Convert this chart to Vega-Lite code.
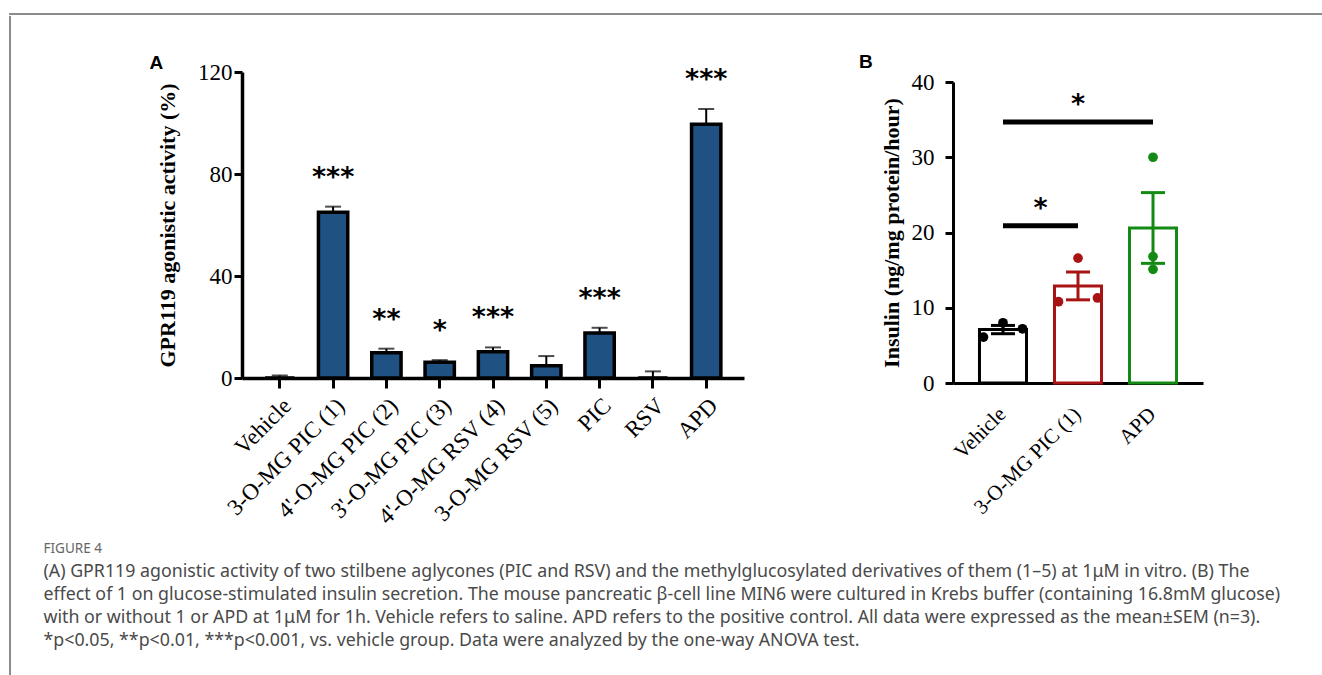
{
  "$schema": "https://vega.github.io/schema/vega-lite/v6.json",
  "background": "white",
  "padding": {"left": 9, "top": 13, "right": 0, "bottom": 0},
  "spacing": 0,
  "config": {
    "view": {"stroke": null},
    "axis": {"labelFont": "Liberation Serif", "titleFont": "Liberation Serif", "labelColor": "black", "titleColor": "black", "domainColor": "black", "tickColor": "black", "grid": false},
    "title": {"font": "Liberation Sans", "color": "black"}
  },
  "datasets": {
    "gpr": [
      {"group": "Vehicle", "mean": 0, "hi": 1.0, "sig": ""},
      {"group": "3-O-MG PIC (1)", "mean": 65.0, "hi": 67.2, "sig": "***"},
      {"group": "4'-O-MG PIC (2)", "mean": 9.9, "hi": 11.5, "sig": "**"},
      {"group": "3'-O-MG PIC (3)", "mean": 6.2, "hi": 7.0, "sig": "*"},
      {"group": "4'-O-MG RSV (4)", "mean": 10.3, "hi": 12.0, "sig": "***"},
      {"group": "3-O-MG RSV (5)", "mean": 4.8, "hi": 8.6, "sig": ""},
      {"group": "PIC", "mean": 17.6, "hi": 19.7, "sig": "***"},
      {"group": "RSV", "mean": 0, "hi": 2.6, "sig": ""},
      {"group": "APD", "mean": 99.5, "hi": 105.5, "sig": "***"}
    ],
    "ins": [
      {"group": "Vehicle", "mean": 7.1, "lo": 6.55, "hi": 7.65},
      {"group": "3-O-MG PIC (1)", "mean": 12.9, "lo": 11.05, "hi": 14.75},
      {"group": "APD", "mean": 20.6, "lo": 15.9, "hi": 25.3}
    ],
    "pts": [
      {"group": "Vehicle", "pos": "L", "value": 6.1},
      {"group": "Vehicle", "pos": "C", "value": 8.0},
      {"group": "Vehicle", "pos": "R", "value": 7.2},
      {"group": "3-O-MG PIC (1)", "pos": "L", "value": 10.8},
      {"group": "3-O-MG PIC (1)", "pos": "C", "value": 16.6},
      {"group": "3-O-MG PIC (1)", "pos": "R", "value": 11.3},
      {"group": "APD", "pos": "C", "value": 30.0},
      {"group": "APD", "pos": "C", "value": 16.8},
      {"group": "APD", "pos": "C", "value": 15.1}
    ],
    "sig": [
      {"from": "Vehicle", "to": "APD", "mid": "3-O-MG PIC (1)", "y": 34.7, "label": "*"},
      {"from": "Vehicle", "to": "3-O-MG PIC (1)", "mid": "Vehicle", "y": 20.9, "label": "*"}
    ]
  },
  "vconcat": [
    {"width": 1313, "height": 0.01, "view": {"stroke": "#8c8c8c", "strokeWidth": 2}, "data": {"values": []}, "mark": "rule", "encoding": {}},
    {
      "spacing": 31,
      "hconcat": [
        {"width": 0.01, "height": 659, "view": {"stroke": "#8c8c8c", "strokeWidth": 2}, "data": {"values": []}, "mark": "rule", "encoding": {}},
        {
          "spacing": 35,
          "vconcat": [
            {"width": 1, "height": 0.01, "data": {"values": []}, "mark": "rule", "encoding": {}},
            {
              "spacing": 114,
              "title": {
                "text": "FIGURE 4",
                "subtitle": [
                  "(A) GPR119 agonistic activity of two stilbene aglycones (PIC and RSV) and the methylglucosylated derivatives of them (1–5) at 1μM in vitro. (B) The",
                  "effect of 1 on glucose-stimulated insulin secretion. The mouse pancreatic β-cell line MIN6 were cultured in Krebs buffer (containing 16.8mM glucose)",
                  "with or without 1 or APD at 1μM for 1h. Vehicle refers to saline. APD refers to the positive control. All data were expressed as the mean±SEM (n=3).",
                  "*p<0.05, **p<0.01, ***p<0.001, vs. vehicle group. Data were analyzed by the one-way ANOVA test."
                ],
                "orient": "bottom",
                "anchor": "start",
                "frame": "bounds",
                "dx": -106,
                "offset": 13,
                "font": "Noto Sans",
                "fontSize": 13.5,
                "fontWeight": "normal",
                "color": "#666666",
                "subtitleFont": "Noto Sans",
                "subtitleFontSize": 17.8,
                "subtitleColor": "#4a4a4a",
                "subtitleLineHeight": 23,
                "subtitlePadding": 8
              },
              "hconcat": [
                {
                  "width": 502,
                  "height": 306,
                  "title": {"text": "A", "anchor": "start", "frame": "bounds", "fontSize": 19, "fontWeight": "bold", "dx": -7, "offset": -12},
                  "data": {"name": "gpr"},
                  "encoding": {
                    "x": {
                      "field": "group", "type": "nominal", "sort": null,
                      "scale": {"type": "band", "domain": ["Vehicle", "3-O-MG PIC (1)", "4'-O-MG PIC (2)", "3'-O-MG PIC (3)", "4'-O-MG RSV (4)", "3-O-MG RSV (5)", "PIC", "RSV", "APD"], "paddingInner": 0.45, "paddingOuter": 0.434},
                      "axis": {"title": null, "labelAngle": -45, "labelAlign": "right", "labelBaseline": "top", "labelFontSize": 23, "labelPadding": 6, "tickSize": 10, "tickWidth": 3, "domainWidth": 3.5}
                    }
                  },
                  "layer": [
                    {
                      "mark": {"type": "bar", "fill": "#1f5282", "stroke": "black", "strokeWidth": 3.5},
                      "encoding": {
                        "y": {"field": "mean", "type": "quantitative", "title": "GPR119 agonistic activity (%)",
                          "scale": {"domain": [0, 120], "nice": false},
                          "axis": {"values": [0, 40, 80, 120], "labelFontSize": 23, "labelPadding": 2, "tickSize": 8, "tickWidth": 3, "domainWidth": 3.5, "titleFontSize": 22, "titleFontWeight": "bold", "titlePadding": 18}}
                      }
                    },
                    {
                      "mark": {"type": "rule", "color": "black", "strokeWidth": 2},
                      "encoding": {
                        "y": {"field": "mean", "type": "quantitative", "title": "GPR119 agonistic activity (%)"},
                        "y2": {"field": "hi"}
                      }
                    },
                    {
                      "mark": {"type": "tick", "color": "black", "thickness": 2, "size": 16},
                      "encoding": {"y": {"field": "hi", "type": "quantitative", "title": "GPR119 agonistic activity (%)"}}
                    },
                    {
                      "mark": {"type": "text", "font": "DejaVu Sans", "fontWeight": "bold", "fontSize": 27, "dy": -29, "baseline": "middle", "color": "black"},
                      "encoding": {
                        "y": {"field": "hi", "type": "quantitative", "title": "GPR119 agonistic activity (%)"},
                        "text": {"field": "sig"}
                      }
                    }
                  ]
                },
                {
                  "title": {"text": "B", "anchor": "start", "frame": "bounds", "fontSize": 19, "fontWeight": "bold", "dx": -21, "offset": -1},
                  "spacing": -2,
                  "vconcat": [
                    {"width": 1, "height": 0.01, "data": {"values": []}, "mark": "rule", "encoding": {}},
                    {
                      "width": 250,
                      "height": 301,
                      "encoding": {
                        "x": {
                          "field": "group", "type": "nominal", "sort": null,
                          "scale": {"type": "band", "domain": ["Vehicle", "3-O-MG PIC (1)", "APD"], "paddingInner": 0.373, "paddingOuter": 0.353},
                          "axis": {"title": null, "labelAngle": -45, "labelAlign": "right", "labelBaseline": "top", "labelFontSize": 21, "labelPadding": 20, "labelOffset": -8, "ticks": false, "domainWidth": 3}
                        }
                      },
                      "layer": [
                        {
                          "data": {"name": "ins"},
                          "mark": {"type": "bar", "fill": "white", "strokeWidth": 3},
                          "encoding": {
                            "y": {"field": "mean", "type": "quantitative", "title": "Insulin (ng/mg protein/hour)",
                              "scale": {"domain": [0, 40], "nice": false},
                              "axis": {"values": [0, 10, 20, 30, 40], "labelFontSize": 23, "labelPadding": 11, "tickSize": 8, "tickWidth": 3, "domainWidth": 3, "titleFontSize": 22, "titleFontWeight": "bold", "titlePadding": 8}},
                            "stroke": {"field": "group", "type": "nominal", "legend": null, "scale": {"domain": ["Vehicle", "3-O-MG PIC (1)", "APD"], "range": ["#000000", "#a81414", "#138a13"]}}
                          }
                        },
                        {
                          "data": {"name": "ins"},
                          "mark": {"type": "rule", "strokeWidth": 3},
                          "encoding": {
                            "y": {"field": "lo", "type": "quantitative", "title": "Insulin (ng/mg protein/hour)"},
                            "y2": {"field": "hi"},
                            "color": {"field": "group", "type": "nominal", "legend": null, "scale": {"domain": ["Vehicle", "3-O-MG PIC (1)", "APD"], "range": ["#000000", "#a81414", "#138a13"]}}
                          }
                        },
                        {
                          "data": {"name": "ins"},
                          "mark": {"type": "tick", "thickness": 3, "size": 24, "opacity": 1},
                          "encoding": {
                            "y": {"field": "lo", "type": "quantitative", "title": "Insulin (ng/mg protein/hour)"},
                            "color": {"field": "group", "type": "nominal", "legend": null}
                          }
                        },
                        {
                          "data": {"name": "ins"},
                          "mark": {"type": "tick", "thickness": 3, "size": 24, "opacity": 1},
                          "encoding": {
                            "y": {"field": "hi", "type": "quantitative", "title": "Insulin (ng/mg protein/hour)"},
                            "color": {"field": "group", "type": "nominal", "legend": null}
                          }
                        },
                        {
                          "data": {"name": "pts"},
                          "transform": [{"filter": "datum.pos === 'L'"}],
                          "mark": {"type": "circle", "size": 95, "opacity": 1},
                          "encoding": {
                            "x": {"field": "group", "type": "nominal", "bandPosition": 0.085},
                            "y": {"field": "value", "type": "quantitative", "title": "Insulin (ng/mg protein/hour)"},
                            "color": {"field": "group", "type": "nominal", "legend": null}
                          }
                        },
                        {
                          "data": {"name": "pts"},
                          "transform": [{"filter": "datum.pos === 'C'"}],
                          "mark": {"type": "circle", "size": 95, "opacity": 1},
                          "encoding": {
                            "x": {"field": "group", "type": "nominal", "bandPosition": 0.5},
                            "y": {"field": "value", "type": "quantitative", "title": "Insulin (ng/mg protein/hour)"},
                            "color": {"field": "group", "type": "nominal", "legend": null}
                          }
                        },
                        {
                          "data": {"name": "pts"},
                          "transform": [{"filter": "datum.pos === 'R'"}],
                          "mark": {"type": "circle", "size": 95, "opacity": 1},
                          "encoding": {
                            "x": {"field": "group", "type": "nominal", "bandPosition": 0.915},
                            "y": {"field": "value", "type": "quantitative", "title": "Insulin (ng/mg protein/hour)"},
                            "color": {"field": "group", "type": "nominal", "legend": null}
                          }
                        },
                        {
                          "data": {"name": "sig"},
                          "mark": {"type": "rule", "strokeWidth": 5, "color": "black"},
                          "encoding": {
                            "x": {"field": "from", "type": "nominal"},
                            "x2": {"field": "to"},
                            "y": {"field": "y", "type": "quantitative", "title": "Insulin (ng/mg protein/hour)"}
                          }
                        },
                        {
                          "data": {"name": "sig"},
                          "transform": [{"filter": "datum.to === 'APD'"}],
                          "mark": {"type": "text", "font": "DejaVu Sans", "fontWeight": "bold", "fontSize": 27, "dy": -17, "baseline": "middle", "color": "black"},
                          "encoding": {
                            "x": {"field": "mid", "type": "nominal", "bandPosition": 0.5},
                            "y": {"field": "y", "type": "quantitative", "title": "Insulin (ng/mg protein/hour)"},
                            "text": {"field": "label"}
                          }
                        },
                        {
                          "data": {"name": "sig"},
                          "transform": [{"filter": "datum.to !== 'APD'"}],
                          "mark": {"type": "text", "font": "DejaVu Sans", "fontWeight": "bold", "fontSize": 27, "dy": -17, "baseline": "middle", "color": "black"},
                          "encoding": {
                            "x": {"field": "mid", "type": "nominal", "bandPosition": 1.3},
                            "y": {"field": "y", "type": "quantitative", "title": "Insulin (ng/mg protein/hour)"},
                            "text": {"field": "label"}
                          }
                        }
                      ]
                    }
                  ]
                }
              ]
            }
          ]
        }
      ]
    }
  ]
}
